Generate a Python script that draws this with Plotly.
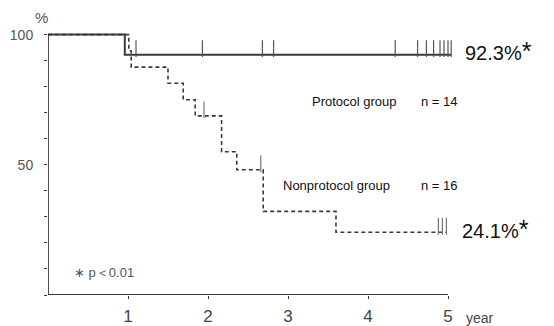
import plotly.graph_objects as go

# ---- data ----
protocol_times = [0, 0.96]
protocol_surv = [100, 92.3]
protocol_end = 5.04
protocol_censor_t = [0.72, 1.1, 1.93, 2.68, 2.82, 4.34, 4.62, 4.73, 4.82, 4.9, 4.95, 5.0, 5.04]

nonprot_times = [0, 1.01, 1.04, 1.5, 1.69, 1.84, 2.17, 2.36, 2.69, 3.6]
nonprot_surv = [100, 93.8, 87.5, 81.3, 75.0, 68.8, 55.0, 48.1, 32.1, 24.1]
nonprot_end = 4.98
nonprot_censor_t = [1.95, 2.66, 4.88, 4.93, 4.98]

x_ticks = [1, 2, 3, 4, 5]
y_ticks = [0, 10, 20, 30, 40, 50, 60, 70, 80, 90, 100]
y_ticklabels = ["", "", "", "", "", "50", "", "", "", "", "100"]


def surv_at(t, times, surv):
    v = surv[0]
    for ti, si in zip(times, surv):
        if ti <= t:
            v = si
    return v


LINE = "#3a3a3a"
FONT = "Liberation Sans, Arial, sans-serif"
TICK_OFF = 2.3  # rise of censor ticks above the curve (in %)

fig = go.Figure()

# Protocol group (solid)
fig.add_trace(go.Scatter(
    x=protocol_times + [protocol_end], y=protocol_surv + [protocol_surv[-1]],
    mode="lines", line=dict(color=LINE, width=2, shape="hv"), cliponaxis=False,
    hoverinfo="skip"))
fig.add_trace(go.Scatter(
    x=protocol_censor_t,
    y=[surv_at(t, protocol_times, protocol_surv) + TICK_OFF for t in protocol_censor_t],
    mode="markers", cliponaxis=False,
    marker=dict(symbol="line-ns", size=12, line=dict(color="#555", width=1.2))))

# Nonprotocol group (dashed)
fig.add_trace(go.Scatter(
    x=nonprot_times + [nonprot_end], y=nonprot_surv + [nonprot_surv[-1]],
    mode="lines", line=dict(color=LINE, width=1.6, shape="hv", dash="4px,3px"),
    cliponaxis=False, hoverinfo="skip"))
fig.add_trace(go.Scatter(
    x=nonprot_censor_t,
    y=[surv_at(t, nonprot_times, nonprot_surv) + TICK_OFF for t in nonprot_censor_t],
    mode="markers", cliponaxis=False,
    marker=dict(symbol="line-ns", size=12, line=dict(color="#777", width=1.2))))

# page body has an 8px margin -> compensate in figure size / margins
fig.update_layout(
    width=546, height=318,
    margin=dict(l=40, r=102, t=24, b=31, autoexpand=False),
    paper_bgcolor="white", plot_bgcolor="white",
    showlegend=False,
    font=dict(family=FONT, color="#555"),
    xaxis=dict(range=[0, 5.05], tickvals=x_ticks, ticktext=[str(v) for v in x_ticks],
               showgrid=False, zeroline=False, showline=False, automargin=False,
               ticks="outside", ticklen=3, tickcolor=LINE, ticklabelstandoff=3,
               tickfont=dict(size=17, color="#444", family=FONT)),
    yaxis=dict(range=[0, 101], tickvals=y_ticks, ticktext=y_ticklabels,
               showgrid=False, zeroline=False, showline=False, automargin=False,
               ticks="outside", ticklen=3, tickcolor=LINE, ticklabelstandoff=8,
               tickfont=dict(size=14, color="#555", family=FONT)),
)

# axis lines
fig.add_shape(type="line", xref="x", yref="y", x0=0, x1=5, y0=0, y1=0,
              line=dict(color=LINE, width=1.8))
fig.add_shape(type="line", xref="x", yref="y", x0=0, x1=0, y0=0, y1=100,
              line=dict(color=LINE, width=1.8))

NSP = "&nbsp;"
ann = [
    dict(x=0, y=100, xref="x", yref="y", text="%", xanchor="right", yanchor="bottom",
         xshift=2, yshift=7, font=dict(size=15, color="#555")),
    dict(x=5, y=0, xref="x", yref="y", text="year", xanchor="left", yanchor="top",
         xshift=16, yshift=-13, font=dict(size=14, color="#444")),
    dict(x=protocol_end, y=protocol_surv[-1], xref="x", yref="y",
         text="92.3%<span style='font-size:25px'>*</span>", xanchor="left",
         yanchor="middle", xshift=12, yshift=4, font=dict(size=20, color="#111")),
    dict(x=nonprot_end, y=nonprot_surv[-1], xref="x", yref="y",
         text="24.1%<span style='font-size:25px'>*</span>", xanchor="left",
         yanchor="middle", xshift=14, yshift=3, font=dict(size=20, color="#111")),
    dict(x=3.27, y=75, xref="x", yref="y", text="Protocol group",
         xanchor="left", yanchor="middle", yshift=-2, font=dict(size=13, color="#111")),
    dict(x=4.64, y=75, xref="x", yref="y", text="n" + NSP + "=" + NSP + "14",
         xanchor="left", yanchor="middle", yshift=-2, font=dict(size=13, color="#111")),
    dict(x=2.91, y=43, xref="x", yref="y", text="Nonprotocol group",
         xanchor="left", yanchor="middle", yshift=-2, font=dict(size=13, color="#111")),
    dict(x=4.64, y=43, xref="x", yref="y", text="n" + NSP + "=" + NSP + "16",
         xanchor="left", yanchor="middle", yshift=-2, font=dict(size=13, color="#111")),
    dict(x=0.3, y=8.5, xref="x", yref="y", text="∗ p＜0.01",
         xanchor="left", yanchor="middle", font=dict(size=13, color="#555")),
]
for a in ann:
    a["showarrow"] = False
fig.update_layout(annotations=ann)

fig.write_html("out.html")
